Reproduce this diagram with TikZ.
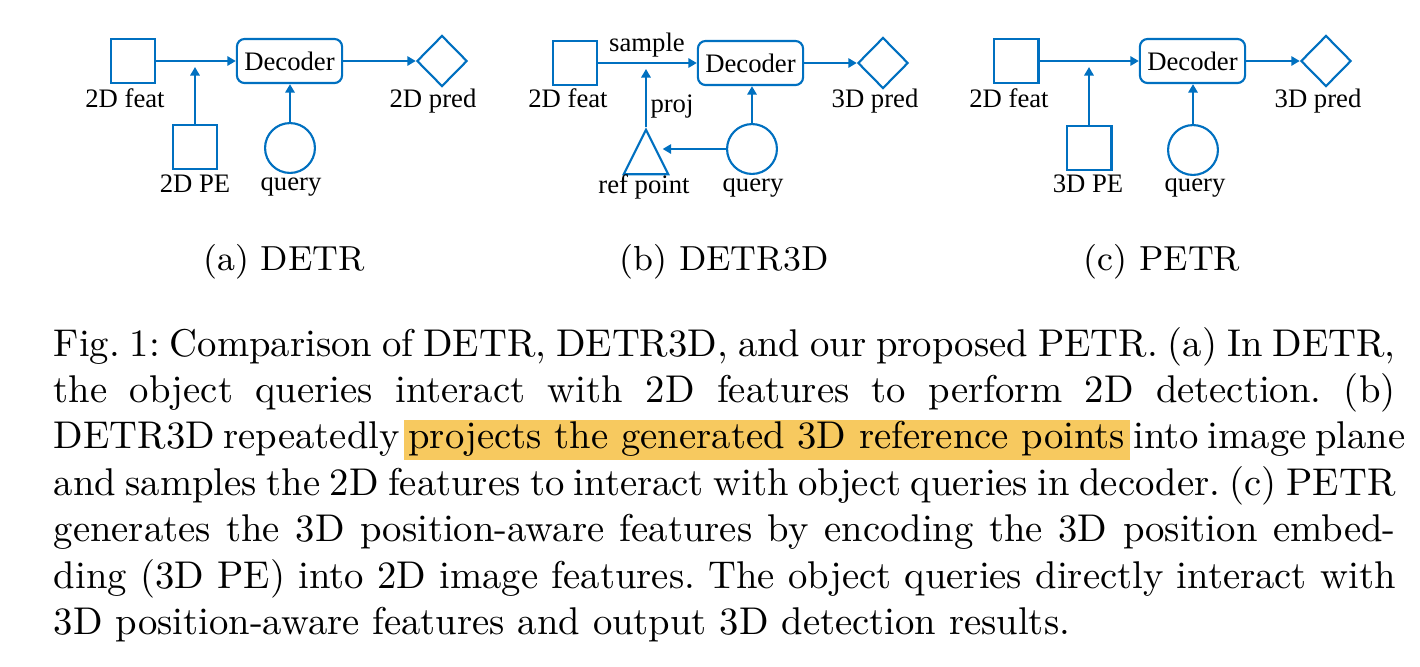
\documentclass[tikz,border=0pt]{standalone}
\usepackage{fontspec}
\usetikzlibrary{shapes.geometric}
\usetikzlibrary{arrows.meta}

\newfontfamily\diagfont{Liberation Serif}
\definecolor{petrblue}{RGB}{0,112,192}
\definecolor{hlorange}{RGB}{247,201,95}
\newcommand{\diagsize}{\diagfont\fontsize{6.9pt}{8pt}\selectfont}
\newcommand{\subsize}{\fontsize{9pt}{11pt}\selectfont}
\newcommand{\capsize}{\fontsize{10pt}{12pt}\selectfont\frenchspacing}
\newcommand{\capline}[1]{\makebox[347pt][s]{#1}}
\newcommand{\hlwords}[1]{{\setlength{\fboxsep}{0pt}\hspace{-1.2pt}\colorbox{hlorange}{\rule[-2.8pt]{0pt}{10.3pt}\hspace{1.2pt}#1\hspace{1.2pt}}\hspace{-1.2pt}}}

\begin{document}
\begin{tikzpicture}[x=0.2586pt,y=-0.2586pt,
  blk/.style={draw=petrblue,line width=0.55pt,minimum width=11.6pt,minimum height=11.4pt,inner sep=0pt},
  dec/.style={draw=petrblue,line width=0.55pt,rounded corners=2pt,minimum width=27.2pt,minimum height=11.4pt,inner sep=0pt,font=\diagsize},
  qry/.style={circle,draw=petrblue,line width=0.55pt,minimum size=12.9pt,inner sep=0pt},
  prd/.style={diamond,draw=petrblue,line width=0.55pt,minimum width=13pt,minimum height=13.2pt,inner sep=0pt},
  refpt/.style={isosceles triangle,isosceles triangle stretches,shape border rotate=90,draw=petrblue,line width=0.55pt,minimum width=11.5pt,minimum height=11.5pt,inner sep=0pt},
  lbl/.style={font=\diagsize,inner sep=0pt,anchor=base},
  conn/.style={petrblue,line width=0.55pt,-{Triangle[length=2.2pt,width=2.4pt]}},
  subcap/.style={font=\subsize,inner sep=0pt,anchor=base},
  capbox/.style={font=\capsize,inner sep=0pt,anchor=base west}]
\useasboundingbox (0,0) rectangle (1420,666);

% (a) DETR
\node[blk] (feata) at (133,61) {};
\node[dec] (deca) at (289.5,61) {Decoder};
\node[prd] (preda) at (442,61) {};
\node[blk] (pea) at (195,147) {};
\node[qry] (qrya) at (290,148) {};
\coordinate (joina) at (195,67);
\draw[conn] (feata) -- (deca);
\draw[conn] (deca) -- (preda);
\draw[conn] (pea) -- (joina);
\draw[conn] (qrya) -- (qrya |- deca.south);
\node[lbl] (ta1) at (125,107) {2D feat};
\node[lbl] (ta2) at (433,107) {2D pred};
\node[lbl] (ta3) at (195,192) {2D PE};
\node[lbl] (ta4) at (291,190) {query};

% (b) DETR3D
\node[blk] (featb) at (575,63) {};
\node[dec] (decb) at (750.5,63) {Decoder};
\node[prd] (predb) at (883,63) {};
\node[refpt,anchor=apex] (refb) at (646,127) {};
\node[qry] (qryb) at (752,149) {};
\coordinate (joinb) at (646,69);
\draw[conn] (featb) -- (decb);
\draw[conn] (decb) -- (predb);
\draw[conn] (refb.apex) -- (joinb);
\draw[conn] (qryb) -- (qryb |- decb.south);
\draw[conn] (qryb.west) -- (qryb.west -| refb.east);
\node[lbl] (tb0) at (647,51) {sample};
\node[lbl] (tb5) at (672,112) {proj};
\node[lbl] (tb1) at (568,107) {2D feat};
\node[lbl] (tb2) at (875,107) {3D pred};
\node[lbl] (tb3) at (644,193) {ref point};
\node[lbl] (tb4) at (753,191) {query};

% (c) PETR
\node[blk] (featc) at (1016,61) {};
\node[dec] (decc) at (1192.5,61) {Decoder};
\node[prd] (predc) at (1326,61) {};
\node[blk] (pec) at (1089,148) {};
\node[qry] (qryc) at (1193,150) {};
\coordinate (joinc) at (1089,67);
\draw[conn] (featc) -- (decc);
\draw[conn] (decc) -- (predc);
\draw[conn] (pec) -- (joinc);
\draw[conn] (qryc) -- (qryc |- decc.south);
\node[lbl] (tc1) at (1009,107) {2D feat};
\node[lbl] (tc2) at (1318,107) {3D pred};
\node[lbl] (tc3) at (1088,192) {3D PE};
\node[lbl] (tc4) at (1195,191) {query};

% sub captions
\node[subcap] (suba) at (284,270) {(a) DETR};
\node[subcap] (subb) at (724,270) {(b) DETR3D};
\node[subcap] (subc) at (1162,270) {(c) PETR};

% caption
\node[capbox] (cl1) at (53,356) {\capline{Fig.~1: Comparison of DETR, DETR3D, and our proposed PETR. (a) In DETR,}};
\node[capbox] (cl2) at (53,402.4) {\capline{the object queries interact with 2D features to perform 2D detection. (b)}};
\node[capbox] (cl3) at (53,448.8) {\capline{DETR3D repeatedly \hlwords{projects the generated 3D reference points} into image plane}};
\node[capbox] (cl4) at (53,495.2) {\capline{and samples the 2D features to interact with object queries in decoder. (c) PETR}};
\node[capbox] (cl5) at (53,541.6) {\capline{generates the 3D position-aware features by encoding the 3D position embed-}};
\node[capbox] (cl6) at (53,588) {\capline{ding (3D PE) into 2D image features. The object queries directly interact with}};
\node[capbox] (cl7) at (53,634.4) {3D position-aware features and output 3D detection results.};
\end{tikzpicture}
\end{document}
